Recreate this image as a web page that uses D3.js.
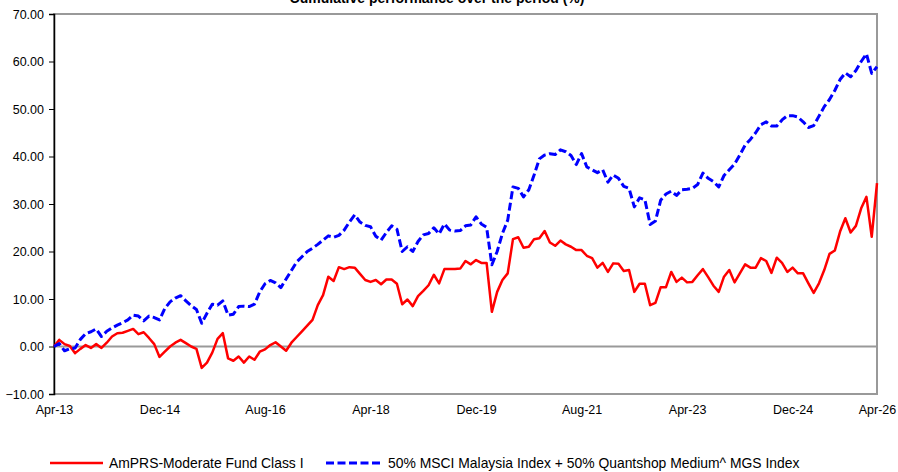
<!DOCTYPE html>
<html><head><meta charset="utf-8">
<script src="https://cdn.jsdelivr.net/npm/d3@7"></script>
<style>
html,body{margin:0;padding:0;background:#fff;}
svg{display:block;font-family:"Liberation Sans",Arial,sans-serif;}
</style></head>
<body><svg id="chart" width="898" height="472"></svg>
<script>
const title = "Cumulative performance over the period (%)";
const seriesNames = ["AmPRS-Moderate Fund Class I", "50% MSCI Malaysia Index + 50% Quantshop Medium^ MGS Index"];
const fmtMonth = d3.timeFormat("%b-%y");
const months = d3.timeMonth.range(new Date(2013, 3, 1), new Date(2026, 4, 1)).map(fmtMonth);
const tickLabels = ["Apr-13","Dec-14","Aug-16","Apr-18","Dec-19","Aug-21","Apr-23","Dec-24","Apr-26"];
const yTicks = [-10, 0, 10, 20, 30, 40, 50, 60, 70];

const fund = [
 0, 1.4, 0.5, 0.1, -1.4, -0.5, 0.3, -0.3, 0.5, -0.3,
 0.8, 2.1, 2.8, 2.9, 3.3, 3.7, 2.6, 3.0, 1.8, 0.5,
 -2.2, -1.1, 0.0, 0.8, 1.4, 0.7, 0.0, -0.5, -4.5, -3.4,
 -1.3, 1.6, 2.8, -2.5, -3.0, -2.1, -3.4, -2.1, -2.8, -1.1,
 -0.6, 0.3, 0.9, 0.0, -0.9, 0.8, 2.0, 3.2, 4.4, 5.6,
 8.7, 10.8, 14.7, 13.8, 16.7, 16.3, 16.7, 16.6, 15.3, 14.0,
 13.6, 14.0, 13.1, 14.1, 14.1, 13.2, 8.9, 9.9, 8.5, 10.6,
 11.7, 12.9, 15.1, 13.3, 16.3, 16.3, 16.3, 16.4, 18.0, 17.3,
 18.2, 17.6, 17.6, 7.3, 11.5, 14.0, 15.4, 22.6, 23.0, 20.8,
 21.0, 22.6, 22.8, 24.3, 21.9, 21.2, 22.3, 21.5, 21.0, 20.3,
 20.3, 19.1, 18.6, 16.6, 17.6, 15.7, 17.5, 17.4, 15.9, 16.1,
 11.5, 13.2, 13.2, 8.7, 9.2, 12.5, 12.5, 15.7, 13.6, 14.5,
 13.5, 13.6, 15.0, 16.3, 14.6, 12.8, 11.5, 14.7, 16.1, 13.5,
 15.4, 17.3, 16.6, 16.6, 18.6, 18.0, 15.5, 18.7, 17.6, 15.7,
 16.6, 15.4, 15.4, 13.3, 11.3, 13.3, 16.1, 19.5, 20.2, 24.2,
 27.0, 24.0, 25.4, 29.1, 31.5, 23.1, 34.4
];
const benchmark = [
 0, 0.6, -0.9, -0.5, -0.3, 1.5, 2.7, 3.1, 3.7, 2.1,
 3.2, 3.9, 4.5, 5.0, 5.6, 6.6, 6.4, 5.4, 6.4, 6.1,
 5.6, 8.0, 9.4, 10.2, 10.7, 9.6, 8.6, 7.8, 4.9, 7.0,
 8.9, 8.7, 9.6, 6.6, 6.8, 8.4, 8.5, 8.4, 8.9, 11.5,
 13.2, 13.9, 13.4, 12.4, 14.2, 16.0, 17.8, 18.9, 20.0, 20.7,
 21.5, 22.4, 23.3, 23.0, 23.4, 24.5, 26.2, 27.7, 26.2, 25.5,
 25.2, 23.2, 22.4, 24.0, 25.4, 24.7, 20.0, 21.0, 20.0, 22.1,
 23.5, 23.8, 25.0, 23.7, 25.8, 24.5, 24.3, 24.4, 25.4, 25.6,
 27.3, 25.8, 25.1, 17.2, 20.0, 23.8, 26.6, 33.6, 33.3, 31.5,
 33.0, 36.1, 39.5, 40.3, 40.6, 40.4, 41.4, 41.0, 40.2, 38.3,
 40.6, 37.8, 37.2, 36.6, 37.2, 34.6, 36.1, 35.4, 33.7, 33.3,
 29.4, 31.3, 30.9, 25.7, 26.4, 30.8, 32.1, 32.7, 31.8, 33.0,
 33.1, 33.3, 34.1, 36.5, 35.4, 34.7, 33.6, 36.0, 37.2, 38.4,
 40.3, 42.4, 43.6, 45.0, 46.7, 47.3, 46.4, 46.4, 47.7, 48.6,
 48.6, 48.3, 47.3, 46.1, 46.5, 48.5, 50.5, 52.0, 53.9, 56.2,
 57.6, 56.8, 58.1, 60.0, 61.6, 57.5, 58.9
];

const svg = d3.select("#chart");
const L = 54, R = 877, T = 14, B = 394;
const x = d3.scalePoint().domain(months).range([L, R]);
const y = d3.scaleLinear().domain([-10, 70]).range([B, T]);

// title (partly above the top edge, as in the reference)
svg.append("text").attr("x", 437).attr("y", 3).attr("text-anchor", "middle")
  .attr("font-size", 14).attr("font-weight", "bold").attr("fill", "#000").text(title);

// plot frame (grey)
svg.append("rect").attr("x", L).attr("y", T).attr("width", R - L).attr("height", B - T)
  .attr("fill", "none").attr("stroke", "#999").attr("stroke-width", 2);

// zero line
svg.append("line").attr("x1", L).attr("x2", R).attr("y1", y(0)).attr("y2", y(0))
  .attr("stroke", "#999").attr("stroke-width", 2);

// y axis
const yAxis = d3.axisLeft(y).tickValues(yTicks).tickFormat(d3.format(".2f")).tickSizeOuter(0).tickSize(5).tickPadding(5);
const ga = svg.append("g").attr("transform", `translate(${L},0)`).call(yAxis);
ga.select(".domain").attr("stroke", "#000").attr("stroke-width", 1.5);
ga.selectAll(".tick line").attr("stroke", "#000");
ga.selectAll("text").attr("font-size", 12.5).attr("fill", "#000").attr("font-family", "Liberation Sans, Arial, sans-serif");

// x axis labels
const xAxis = d3.axisBottom(x).tickValues(tickLabels).tickSize(0).tickPadding(11);
const gx = svg.append("g").attr("transform", `translate(0,${B})`).call(xAxis);
gx.select(".domain").remove();
gx.selectAll("text").attr("font-size", 12.5).attr("fill", "#000").attr("font-family", "Liberation Sans, Arial, sans-serif");

const line = d3.line().x((d, i) => x(months[i])).y(d => y(d));
svg.append("path").datum(fund).attr("d", line).attr("fill", "none")
  .attr("stroke", "#ff0000").attr("stroke-width", 2.5).attr("stroke-linejoin", "round");
svg.append("path").datum(benchmark).attr("d", line).attr("fill", "none")
  .attr("stroke", "#0000ff").attr("stroke-width", 3).attr("stroke-linejoin", "round")
  .attr("stroke-dasharray", "8,3.5");

// legend
const lg = svg.append("g").attr("font-size", 13.9).attr("fill", "#000");
lg.append("line").attr("x1", 50).attr("x2", 103).attr("y1", 463).attr("y2", 463)
  .attr("stroke", "#ff0000").attr("stroke-width", 2.5);
lg.append("text").attr("x", 109).attr("y", 468).text(seriesNames[0]);
lg.append("line").attr("x1", 326).attr("x2", 382).attr("y1", 463).attr("y2", 463)
  .attr("stroke", "#0000ff").attr("stroke-width", 3).attr("stroke-dasharray", "8,3.5");
lg.append("text").attr("x", 388).attr("y", 468).text(seriesNames[1]);
</script>
</body></html>
